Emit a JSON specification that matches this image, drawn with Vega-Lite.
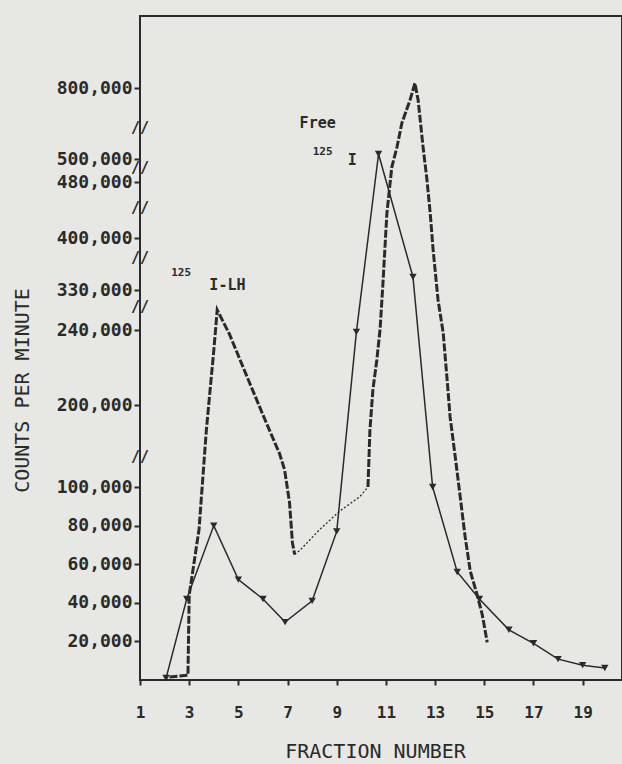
{
  "$schema": "https://vega.github.io/schema/vega-lite/v6.json",
  "width": 482,
  "height": 664,
  "autosize": {"type": "none"},
  "padding": {"left": 140, "top": 16, "right": 0, "bottom": 84},
  "background": "#e7e7e3",
  "config": {
    "view": {"stroke": "#2a2a2a", "strokeWidth": 2},
    "font": "DejaVu Sans Mono"
  },
  "datasets": {
    "lh": [
      {"part": 1, "fraction": 2.2, "cpm": 1500},
      {"part": 1, "fraction": 2.95, "cpm": 2500},
      {"part": 1, "fraction": 3.0, "cpm": 44000},
      {"part": 1, "fraction": 3.4, "cpm": 78000},
      {"part": 1, "fraction": 3.7, "cpm": 170000},
      {"part": 1, "fraction": 4.0, "cpm": 229000},
      {"part": 1, "fraction": 4.14, "cpm": 285000},
      {"part": 1, "fraction": 4.63, "cpm": 238000},
      {"part": 1, "fraction": 5.45, "cpm": 212000},
      {"part": 1, "fraction": 6.14, "cpm": 178000},
      {"part": 1, "fraction": 6.67, "cpm": 141000},
      {"part": 1, "fraction": 6.88, "cpm": 121000},
      {"part": 1, "fraction": 7.08, "cpm": 92000},
      {"part": 1, "fraction": 7.2, "cpm": 71000},
      {"part": 1, "fraction": 7.29, "cpm": 65000},
      {"part": 2, "fraction": 10.27, "cpm": 100000},
      {"part": 2, "fraction": 10.35, "cpm": 169500},
      {"part": 2, "fraction": 10.47, "cpm": 208000},
      {"part": 2, "fraction": 10.63, "cpm": 224000},
      {"part": 2, "fraction": 10.76, "cpm": 240000},
      {"part": 2, "fraction": 10.88, "cpm": 339400},
      {"part": 2, "fraction": 11.04, "cpm": 435700},
      {"part": 2, "fraction": 11.24, "cpm": 493000},
      {"part": 2, "fraction": 11.45, "cpm": 550700},
      {"part": 2, "fraction": 11.65, "cpm": 652000},
      {"part": 2, "fraction": 11.98, "cpm": 749000},
      {"part": 2, "fraction": 12.18, "cpm": 820000},
      {"part": 2, "fraction": 12.31, "cpm": 749000},
      {"part": 2, "fraction": 12.51, "cpm": 550700},
      {"part": 2, "fraction": 12.67, "cpm": 481700},
      {"part": 2, "fraction": 12.8, "cpm": 435700},
      {"part": 2, "fraction": 12.92, "cpm": 383800},
      {"part": 2, "fraction": 13.12, "cpm": 307500},
      {"part": 2, "fraction": 13.33, "cpm": 238400},
      {"part": 2, "fraction": 13.49, "cpm": 213300},
      {"part": 2, "fraction": 13.61, "cpm": 185400},
      {"part": 2, "fraction": 13.82, "cpm": 136600},
      {"part": 2, "fraction": 14.02, "cpm": 95000},
      {"part": 2, "fraction": 14.22, "cpm": 74300},
      {"part": 2, "fraction": 14.43, "cpm": 56400},
      {"part": 2, "fraction": 14.71, "cpm": 44100},
      {"part": 2, "fraction": 14.92, "cpm": 33700},
      {"part": 2, "fraction": 15.12, "cpm": 19500}
    ],
    "lhBridge": [
      {"fraction": 7.29, "cpm": 65000},
      {"fraction": 7.49, "cpm": 67000},
      {"fraction": 8.31, "cpm": 78000},
      {"fraction": 9.12, "cpm": 87500},
      {"fraction": 9.94, "cpm": 95000},
      {"fraction": 10.27, "cpm": 100000}
    ],
    "free": [
      {"fraction": 2.06, "cpm": 1000},
      {"fraction": 2.9, "cpm": 42000},
      {"fraction": 4.0, "cpm": 80000},
      {"fraction": 5.0, "cpm": 52000},
      {"fraction": 6.0, "cpm": 42000},
      {"fraction": 6.9, "cpm": 30000},
      {"fraction": 8.0, "cpm": 41000},
      {"fraction": 9.0, "cpm": 77000},
      {"fraction": 9.8, "cpm": 239000},
      {"fraction": 10.7, "cpm": 521000},
      {"fraction": 12.1, "cpm": 347500},
      {"fraction": 12.9, "cpm": 100000},
      {"fraction": 13.9, "cpm": 56000},
      {"fraction": 14.8, "cpm": 42000},
      {"fraction": 16.0, "cpm": 26000},
      {"fraction": 17.0, "cpm": 19000},
      {"fraction": 18.0, "cpm": 10800},
      {"fraction": 19.0, "cpm": 7700},
      {"fraction": 19.9, "cpm": 6200}
    ],
    "breaks": [
      {"fraction": 1, "cpm": 136600, "label": "//"},
      {"fraction": 1, "cpm": 292000, "label": "//"},
      {"fraction": 1, "cpm": 373000, "label": "//"},
      {"fraction": 1, "cpm": 443000, "label": "//"},
      {"fraction": 1, "cpm": 492000, "label": "//"},
      {"fraction": 1, "cpm": 631000, "label": "//"}
    ],
    "sup": [
      {"fraction": 2.27, "cpm": 352900, "label": "125"},
      {"fraction": 8.02, "cpm": 529600, "label": "125"}
    ],
    "notes": [
      {"fraction": 3.82, "cpm": 336700, "label": "I-LH"},
      {"fraction": 7.49, "cpm": 652000, "label": "Free"},
      {"fraction": 9.45, "cpm": 499000, "label": "I"}
    ]
  },
  "encoding": {
    "x": {
      "field": "fraction",
      "type": "quantitative",
      "scale": {"domain": [1, 20.6], "nice": false, "zero": false},
      "axis": {
        "values": [1, 3, 5, 7, 9, 11, 13, 15, 17, 19],
        "format": "d",
        "title": "FRACTION NUMBER",
        "grid": false,
        "domain": false,
        "tickSize": 5,
        "tickWidth": 2,
        "tickColor": "#2a2a2a",
        "labelFont": "DejaVu Sans Mono",
        "labelFontSize": 16,
        "labelFontWeight": "bold",
        "labelColor": "#2a2a2a",
        "labelPadding": 19,
        "labelFlush": false,
        "titleFont": "DejaVu Sans Mono",
        "titleFontSize": 20,
        "titleFontWeight": "normal",
        "titleColor": "#2a2a2a",
        "titleX": 235,
        "titleY": 77,
        "titleBaseline": "alphabetic"
      }
    },
    "y": {
      "field": "cpm",
      "type": "quantitative",
      "scale": {
        "type": "linear",
        "domain": [0, 100000, 200000, 240000, 330000, 400000, 480000, 500000, 800000, 1100000],
        "range": [664, 471, 389, 314, 274, 222, 166, 143, 72, 0],
        "nice": false,
        "zero": false
      },
      "axis": {
        "values": [20000, 40000, 60000, 80000, 100000, 200000, 240000, 330000, 400000, 480000, 500000, 800000],
        "format": ",.0f",
        "title": "COUNTS PER MINUTE",
        "grid": false,
        "domain": false,
        "tickSize": 6,
        "tickWidth": 2,
        "tickColor": "#2a2a2a",
        "labelFont": "DejaVu Sans Mono",
        "labelFontSize": 18,
        "labelFontWeight": "bold",
        "labelColor": "#2a2a2a",
        "labelPadding": 2,
        "titleFont": "DejaVu Sans Mono",
        "titleFontSize": 20,
        "titleFontWeight": "normal",
        "titleColor": "#2a2a2a",
        "titleX": -118,
        "titleY": 374,
        "titleBaseline": "middle",
        "titleAngle": 270
      }
    }
  },
  "layer": [
    {
      "data": {"name": "lhBridge"},
      "mark": {"type": "line", "color": "#2a2a2a", "strokeWidth": 1.3, "strokeDash": [2, 2]}
    },
    {
      "data": {"name": "lh"},
      "mark": {"type": "line", "color": "#2a2a2a", "strokeWidth": 3, "strokeDash": [8, 2]},
      "encoding": {"detail": {"field": "part", "type": "nominal"}}
    },
    {
      "data": {"name": "free"},
      "mark": {"type": "line", "color": "#2a2a2a", "strokeWidth": 1.5, "point": {"shape": "triangle-down", "size": 55, "filled": true, "color": "#2a2a2a"}}
    },
    {
      "data": {"name": "breaks"},
      "mark": {"type": "text", "fontSize": 15, "fontWeight": "bold", "color": "#2a2a2a", "align": "center", "baseline": "middle", "font": "DejaVu Sans Mono"},
      "encoding": {"text": {"field": "label"}}
    },
    {
      "data": {"name": "sup"},
      "mark": {"type": "text", "fontSize": 11, "fontWeight": "bold", "color": "#2a2a2a", "align": "left", "baseline": "middle", "font": "DejaVu Sans Mono"},
      "encoding": {"text": {"field": "label"}}
    },
    {
      "data": {"name": "notes"},
      "mark": {"type": "text", "fontSize": 15, "fontWeight": "bold", "color": "#2a2a2a", "align": "left", "baseline": "middle", "font": "DejaVu Sans Mono"},
      "encoding": {"text": {"field": "label"}}
    }
  ]
}
